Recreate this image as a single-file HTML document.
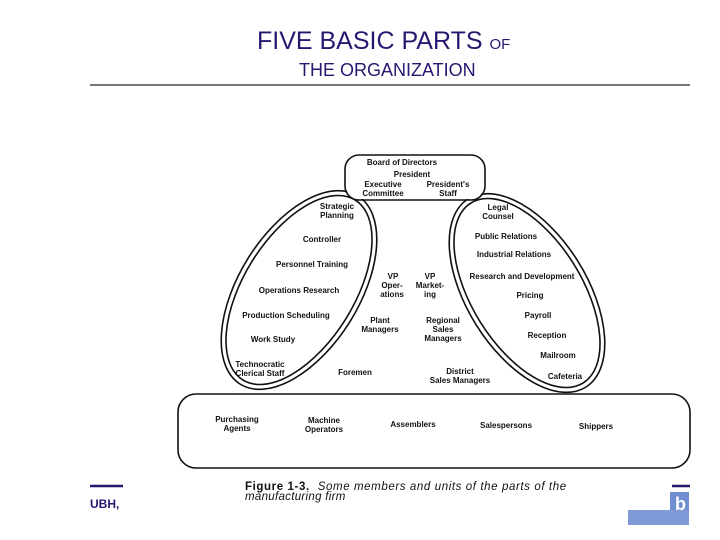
<!DOCTYPE html>
<html><head><meta charset="utf-8"><style>
html,body{margin:0;padding:0;background:#fff;}
svg{display:block;}
text{font-family:"Liberation Sans",sans-serif;}
.d{font-size:8px;font-weight:bold;fill:#111;text-anchor:middle;}
</style></head><body>
<svg width="720" height="540" viewBox="0 0 720 540" xmlns="http://www.w3.org/2000/svg">
<text x="257" y="49" font-size="25" fill="#2a1670">FIVE BASIC PARTS <tspan font-size="15">OF</tspan></text>
<text x="299" y="76" font-size="18" fill="#2a1670">THE ORGANIZATION</text>
<line x1="90" y1="85" x2="690" y2="85" stroke="#777" stroke-width="2"/>

<g fill="none" stroke="#111" stroke-width="1.6">
<ellipse cx="299" cy="290" rx="55" ry="106" transform="rotate(32 299 290)"/>
<ellipse cx="299" cy="290" rx="60" ry="111" transform="rotate(32 299 290)"/>
<ellipse cx="527" cy="293" rx="55" ry="106" transform="rotate(-32 527 293)"/>
<ellipse cx="527" cy="293" rx="60" ry="111" transform="rotate(-32 527 293)"/>
</g>
<rect x="346" y="156" width="138" height="43" rx="13" fill="#fff"/>
<rect x="179" y="395" width="510" height="72" rx="17" fill="#fff"/>
<g fill="none" stroke="#111" stroke-width="1.6">
<rect x="345" y="155" width="140" height="45" rx="14"/>
<rect x="178" y="394" width="512" height="74" rx="18"/>
</g>

<g class="d">
<text x="402" y="165">Board of Directors</text>
<text x="412" y="177">President</text>
<text x="383" y="187">Executive</text><text x="383" y="196">Committee</text>
<text x="448" y="187">President's</text><text x="448" y="196">Staff</text>
<text x="337" y="209">Strategic</text><text x="337" y="218">Planning</text>
<text x="322" y="242">Controller</text>
<text x="312" y="267">Personnel Training</text>
<text x="299" y="293">Operations Research</text>
<text x="286" y="318">Production Scheduling</text>
<text x="273" y="342">Work Study</text>
<text x="260" y="367">Technocratic</text><text x="260" y="376">Clerical Staff</text>
<text x="355" y="375">Foremen</text>
<text x="393" y="279">VP</text><text x="392" y="288">Oper-</text><text x="392" y="297">ations</text>
<text x="430" y="279">VP</text><text x="430" y="288">Market-</text><text x="430" y="297">ing</text>
<text x="380" y="323">Plant</text><text x="380" y="332">Managers</text>
<text x="443" y="323">Regional</text><text x="443" y="332">Sales</text><text x="443" y="341">Managers</text>
<text x="460" y="374">District</text><text x="460" y="383">Sales Managers</text>
<text x="498" y="210">Legal</text><text x="498" y="219">Counsel</text>
<text x="506" y="239">Public Relations</text>
<text x="514" y="257">Industrial Relations</text>
<text x="522" y="279">Research and Development</text>
<text x="530" y="298">Pricing</text>
<text x="538" y="318">Payroll</text>
<text x="547" y="338">Reception</text>
<text x="558" y="358">Mailroom</text>
<text x="565" y="379">Cafeteria</text>
<text x="237" y="422">Purchasing</text><text x="237" y="431">Agents</text>
<text x="324" y="423">Machine</text><text x="324" y="432">Operators</text>
<text x="413" y="427">Assemblers</text>
<text x="506" y="428">Salespersons</text>
<text x="596" y="429">Shippers</text>
</g>

<text x="245" y="490" font-size="11.5" fill="#111" letter-spacing="0.6"><tspan font-weight="bold">Figure 1-3.</tspan><tspan font-style="italic" dx="8">Some members and units of the parts of the</tspan></text>
<text x="245" y="500" font-size="11.5" font-style="italic" fill="#111" letter-spacing="0.3">manufacturing firm</text>

<line x1="90" y1="486" x2="123" y2="486" stroke="#2a1670" stroke-width="2.5"/>
<line x1="672" y1="486" x2="690" y2="486" stroke="#2a1670" stroke-width="2.5"/>
<text x="90" y="508" font-size="12" font-weight="bold" fill="#2a1670">UBH,</text>
<rect x="670" y="492" width="19" height="20" fill="#6f8fd0"/>
<rect x="628" y="510" width="61" height="15" fill="#7f9ad6"/>
<text x="675" y="510" font-size="18" font-weight="bold" fill="#fff">b</text>
</svg>
</body></html>
